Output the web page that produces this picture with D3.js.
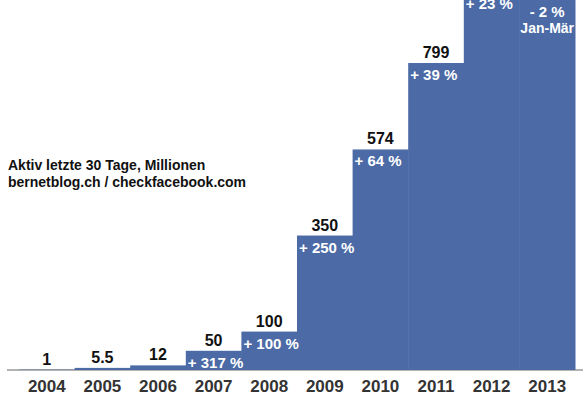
<!DOCTYPE html>
<html><head><meta charset="utf-8">
<script src="https://cdn.jsdelivr.net/npm/d3@7"></script>
<style>
html,body{margin:0;padding:0;background:#fff;}
svg{display:block;}
text{font-family:"Liberation Sans Narrow","Arial Narrow","Liberation Sans",sans-serif;font-weight:bold;}
</style></head>
<body>
<svg id="c" width="583" height="397"></svg>
<script>
const years = ["2004","2005","2006","2007","2008","2009","2010","2011","2012","2013"];
const values = [1, 5.5, 12, 50, 100, 350, 574, 799, 983, 963];
// labels for 2012 and 2013 lie above the picture's top edge in the reference
const valueLabels = ["1","5.5","12","50","100","350","574","799","",""];
const changeLabels = ["", "", "", "+ 317 %", "+ 100 %", "+ 250 %", "+ 64 %", "+ 39 %", "+ 23 %", "- 2 %"];
const noteLines = ["Aktiv letzte 30 Tage, Millionen", "bernetblog.ch / checkfacebook.com"];
const partialNote = ["", "", "", "", "", "", "", "", "", "Jan-Mär"];

const svg = d3.select("#c");
const x = d3.scaleBand().domain(years).range([19, 575]).padding(0);
const y = d3.scaleLinear().domain([0, 1000]).range([370, -14.2]);
const barColor = "#4b6aa6";

// axis line
svg.append("line").attr("x1", 7).attr("x2", 583).attr("y1", y(0)).attr("y2", y(0))
  .attr("stroke", "#9a9a9a").attr("stroke-width", 1.5);

// bars
svg.selectAll("rect.bar").data(values).join("rect").attr("class","bar")
  .attr("x", (d,i) => x(years[i]))
  .attr("width", x.bandwidth() + 0.5)
  .attr("y", d => y(d))
  .attr("height", d => y(0) - y(d))
  .attr("fill", barColor);

// value labels
svg.selectAll("text.val").data(values).join("text").attr("class","val")
  .attr("x", (d,i) => x(years[i]) + x.bandwidth()/2)
  .attr("y", d => y(d) - 5)
  .attr("text-anchor", "middle")
  .attr("font-size", 16)
  .attr("fill", "#111")
  .text((d,i) => valueLabels[i]);

// change labels
const last = years.length - 1;
svg.selectAll("text.chg").data(values).join("text").attr("class","chg")
  .attr("x", (d,i) => i === last ? x(years[i]) + x.bandwidth()/2 : x(years[i]) + 2)
  .attr("y", d => y(d) + 17)
  .attr("text-anchor", (d,i) => i === last ? "middle" : "start")
  .attr("font-size", 15)
  .attr("fill", "#fff")
  .text((d,i) => changeLabels[i]);

svg.selectAll("text.part").data(values).join("text").attr("class","part")
  .attr("x", (d,i) => x(years[i]) + x.bandwidth()/2)
  .attr("y", d => y(d) + 33)
  .attr("text-anchor", "middle")
  .attr("font-size", 14)
  .attr("fill", "#fff")
  .text((d,i) => partialNote[i]);

// year labels
svg.selectAll("text.yr").data(years).join("text").attr("class","yr")
  .attr("x", d => x(d) + x.bandwidth()/2)
  .attr("y", 392)
  .attr("text-anchor", "middle")
  .attr("font-size", 17)
  .attr("fill", "#333")
  .text(d => d);

// note
svg.selectAll("text.note").data(noteLines).join("text").attr("class","note")
  .attr("x", 8)
  .attr("y", (d,i) => 170 + i*17)
  .attr("font-size", 14)
  .attr("fill", "#111")
  .text(d => d);
</script>
</body></html>
